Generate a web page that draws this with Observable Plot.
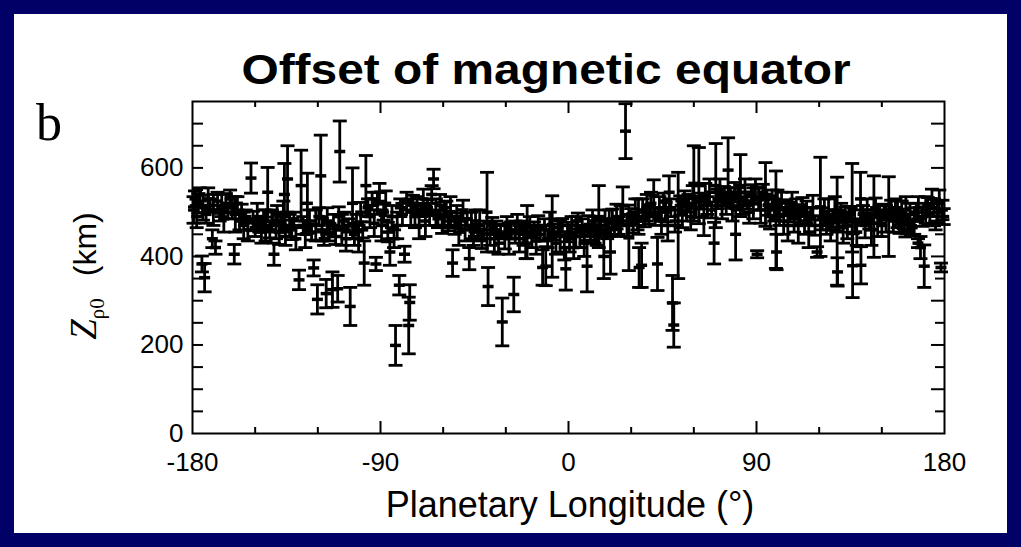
<!DOCTYPE html>
<html>
<head>
<meta charset="utf-8">
<script src="https://cdn.jsdelivr.net/npm/d3@7"></script>
<script src="https://cdn.jsdelivr.net/npm/@observablehq/plot@0.6"></script>
<style>
  html, body { margin: 0; padding: 0; }
  body { width: 1021px; height: 547px; background: #000066; position: relative; overflow: hidden;
         font-family: "Liberation Sans", Arial, sans-serif; }
  #panel { position: absolute; left: 14px; top: 14px; width: 993px; height: 519px; background: #ffffff; }
  #chart { position: absolute; left: 0; top: 66px; }
  #title { position: absolute; left: 531.5px; top: 34.5px; font-size: 42px; line-height: 42px; font-weight: bold;
           white-space: nowrap; transform: translateX(-50%) scaleX(1.14); color: #000; }
  #panelLetter { position: absolute; left: 22px; top: 82.5px; font-family: "Liberation Serif", "Times New Roman", serif;
           font-size: 52px; line-height: 52px; color: #000; }
  #ylabel { position: absolute; left: 73px; top: 262px; white-space: nowrap; color: #000;
            transform: translate(-50%, -50%) rotate(-90deg); line-height: 40px; }
  #ylabel .zi { font-family: "Liberation Serif", "Times New Roman", serif; font-style: italic; font-size: 37px; }
  #ylabel .sub { font-family: "Liberation Serif", "Times New Roman", serif; font-size: 21px; position: relative; top: 8px; }
  #ylabel .km { font-size: 32px; margin-left: 22px; }
  #xlabel { position: absolute; left: 556px; top: 473px; font-size: 36px; line-height: 36px; white-space: nowrap;
            transform: translateX(-50%); color: #000; }
</style>
</head>
<body>
<div id="panel">
  <div id="title">Offset of magnetic equator</div>
  <div id="panelLetter">b</div>
  <div id="ylabel"><span class="zi">Z</span><span class="sub">ρ0</span><span class="km">(km)</span></div>
  <div id="chart"></div>
  <div id="xlabel">Planetary Longitude (°)</div>
</div>
<script>
// ---- data: planetary longitude (deg), equator offset Z (km), error (km)
const longitude = [
  -179.5,-178.8,-178,-177.2,-176.5,-175.5,-175,-174.2,-173.5,-172.5,-171.5,-170.5,-170,-169,-168,-167,-166,-165,-164,-163,-162,-161,-160,-159.5,-158.5,
  -157.5,-156.5,-155.5,-154.5,-153.5,-152,-151,-150,-149,-148,-147,-146,-145,-144,-143,-142,-141,-140,-139.5,
  -138.5,-137.5,-136.5,-136,-135.5,-134.5,-133.5,-132.5,-131.5,-130.5,-129,-128,-127,-126,-125,-124,-123,-122,-121,-120.2,-119.5,
  -118.6,-118,-117,-116,-115.5,-114.5,-113,-112.5,-111.5,-110.5,-110,-109.5,-108.5,-107.5,-106.5,-105.5,-104.5,-103.4,-102.5,-101.5,-100.5,
  -99.5,-98.5,-97.8,-97,-96,-95,-94,-93,-92.2,-91.5,-90.5,-89.5,-88.5,-87.5,-86.5,-85.5,-84.5,-83.5,-82.8,-82,-81,-80.5,-79.5,-78.5,-77.5,-76.5,-76,-75.5,-74.5,
  -73.5,-72.5,-71.5,-70.5,-69.5,-68.5,-67.5,-66.5,-65.5,-64.6,-63.5,-62.5,-61.5,-60.5,
  -59.5,-58.5,-57.5,-56.5,-55.5,-54.5,-53.5,-52.5,-51.5,-50.5,-49.5,-48.5,-47.5,-46.5,-45.5,-44.5,-43.5,-42.5,-41.5,-40.5,
  -39,-38.5,-37.5,-36.5,-35.5,-34.5,-33.5,-32.5,-31.7,-30.5,-29.5,-28.5,-27.5,-26.2,-25.5,-24.5,-23.5,-22.5,-21.5,-20.5,
  -19.8,-18.5,-17.5,-16.5,-15.5,-14.5,-13.5,-12.4,-11.5,-10.9,-10,-9,-7.8,-7,-6,-5,-4,-3,-2,-1.3,-0.5,
  0.5,1.5,2.5,3.5,4.5,5.5,6.5,7.5,8.9,9.5,10.5,11.5,12.5,13.5,14.5,15.5,16.9,17.5,18.5,19.5,
  20.1,21,22,23,24,25,26,27.3,28,28.9,30,31,32,33,33.5,33.8,35,35.5,36.5,37.5,38.5,39.5,
  40.8,41.5,42.6,43.5,44.5,45.5,46.5,47.5,48.2,49,49.8,50.4,51,52.5,53.5,54.5,55.5,56.5,57.5,58.5,59.5,
  60,61,62.4,63.5,64.8,65.5,66.5,67.5,68.5,69.7,70.5,71.5,72.5,73.5,74.5,75.5,76.4,77.5,78.5,79.5,
  80,81,82.3,83.5,84.5,85.5,86.5,87.5,88.5,89.5,90.3,91,92,93,94.3,95.5,96.5,97.5,98.5,99.3,99.6,100,
  101,102,103,104,105,106,107,108,109,110,111,112,113,114,115,116,117,118,119,120.6,121.5,
  122.5,123.5,124.5,125.5,126.5,127.5,128.6,128.8,129.5,130.5,131.5,132.5,133.5,134.5,135.8,136,137,138,139.8,140,
  141,142,143,144,145,146.2,147,148,149,150,151,152,153.3,154.5,155.5,156.5,157.5,158.5,159.5,
  160.5,161.3,161.5,162.5,163.5,164.5,165.5,166.5,167.3,167.5,168.5,169.5,170.3,171,172,173,174,175,175.7,176.5,177.5,178.3,179,179.6
];
const offsetKm = [
  505,530,490,520,540,383,510,352,495,530,515,440,505,420,525,498,515,485,520,500,530,510,405,495,520,
  480,500,470,490,460,577,480,465,490,470,455,485,470,545,460,480,405,470,495,
  455,475,490,540,445,575,470,460,485,440,347,560,470,450,520,480,455,374,470,303,490,
  582,460,440,316,480,455,325,470,445,327,490,637,460,480,440,470,287,520,450,475,440,
  500,460,385,560,510,490,530,475,383,520,545,470,500,520,455,410,490,440,199,470,335,510,495,405,525,244,296,500,520,
  490,515,470,505,530,480,510,495,540,575,500,485,515,470,
  495,510,480,500,385,470,490,455,480,505,460,485,395,470,445,480,455,470,440,460,
  500,332,450,470,440,460,430,455,252,445,470,440,460,314,455,475,440,465,450,430,
  455,470,445,460,435,470,450,375,460,378,440,470,445,455,430,465,445,470,420,372,455,
  440,470,420,455,480,445,465,430,378,470,455,480,460,445,490,470,400,480,460,475,
  410,485,465,490,470,480,515,683,470,442,490,475,500,480,490,375,380,505,485,510,495,520,
  537,490,383,510,480,525,500,470,545,510,295,245,480,470,515,495,530,505,520,490,535,
  565,510,560,525,490,540,515,545,505,430,560,530,550,515,540,520,595,535,510,545,
  450,530,560,515,545,525,500,540,520,555,405,530,505,545,540,515,490,530,505,483,410,520,
  495,525,480,510,470,500,520,485,510,470,495,515,480,500,455,490,510,470,410,512,485,
  500,470,495,460,485,505,457,365,480,500,465,490,470,495,510,379,480,455,530,380,
  495,470,505,480,460,490,510,475,495,470,500,485,490,505,480,510,495,470,500,
  485,452,505,475,495,465,480,500,430,510,420,490,378,505,515,495,530,510,470,500,520,375,505,490
];
const errorKm = [
  30,18,25,22,15,18,28,32,20,25,15,20,35,15,20,18,25,30,22,15,20,25,22,40,15,
  20,18,30,15,25,34,22,20,30,15,25,20,35,56,18,25,25,30,20,
  28,18,35,70,20,75,25,22,15,25,22,80,20,30,68,25,18,18,35,33,20,
  92,25,15,32,30,20,40,25,18,30,22,69,35,20,28,15,43,80,25,20,30,
  22,18,50,68,20,25,15,30,15,25,20,35,18,28,22,30,25,20,45,30,22,20,25,18,20,64,40,30,18,
  25,20,30,15,22,35,18,25,20,22,30,20,25,18,
  28,15,22,35,30,20,25,30,18,22,25,15,25,30,20,25,18,35,22,20,
  90,43,25,18,30,20,25,15,54,28,20,35,18,39,25,20,30,15,25,35,
  60,20,25,18,30,22,15,40,25,44,20,30,92,18,25,20,35,15,28,48,22,
  30,20,25,35,18,25,20,30,58,22,18,25,30,20,70,15,50,25,20,30,
  50,22,18,28,20,35,42,62,25,74,18,22,30,20,40,45,50,25,18,30,22,25,
  36,20,60,25,30,18,22,35,37,20,62,50,25,120,22,30,18,25,20,30,25,
  85,22,86,18,43,25,20,30,18,47,95,22,25,30,18,25,73,20,30,22,
  58,25,70,20,30,18,25,22,35,20,8,25,30,18,72,22,28,20,25,110,40,30,
  25,20,30,18,35,22,25,30,20,40,22,18,30,25,35,20,28,22,12,112,25,
  30,20,35,25,18,30,122,32,25,20,35,22,30,18,100,72,25,30,60,42,
  20,28,25,18,35,92,22,30,20,25,18,30,90,22,25,20,30,18,25,
  22,8,30,20,25,18,30,20,10,25,25,22,48,30,18,25,22,20,10,25,30,10,22,18
];

// ---- axis tick values
const xLabelTicks = [-180, -90, 0, 90, 180];
const xMajorTicks = [-90, 0, 90];
const xMinorTicks = [-150, -120, -60, -30, 30, 60, 120, 150];
const yLabelTicks = [0, 200, 400, 600];
const yMajorTicks = [100, 200, 300, 400, 500, 600, 700];
const yMinorTicks = [50, 150, 250, 350, 450, 550, 650];

if (longitude.length !== offsetKm.length || longitude.length !== errorKm.length) {
  console.error("length mismatch", longitude.length, offsetKm.length, errorKm.length);
}
const points = longitude.map((lon, i) => ({lon, z: offsetKm[i], err: errorKm[i]}));

const capSymbol = {draw(ctx) { ctx.moveTo(-7, 0); ctx.lineTo(7, 0); }};
const centerSymbol = {draw(ctx) { ctx.moveTo(-5.5, 0); ctx.lineTo(5.5, 0); }};

const W = 993, H = 450, mL = 178, mR = 63, mT = 21, mB = 97;
const innerW = W - mL - mR, innerH = H - mT - mB;
const ink = "#000";

const chart = Plot.plot({
  width: W, height: H,
  marginLeft: mL, marginRight: mR, marginTop: mT, marginBottom: mB,
  style: {fontFamily: "'Liberation Sans', Arial, sans-serif", fontSize: "26px", color: "#000", background: "transparent", overflow: "visible"},
  x: {domain: [-180, 180], ticks: xLabelTicks, tickFormat: d => String(d), tickSize: 0, tickPadding: 19, label: null},
  y: {domain: [0, 750], ticks: yLabelTicks, tickFormat: d => String(d), tickSize: 0, tickPadding: 9, label: null},
  marks: [
    // inward ticks, bottom and top
    Plot.tickX(xMajorTicks, {x: d => d, insetTop: innerH - 12, stroke: ink, strokeWidth: 2}),
    Plot.tickX(xMinorTicks, {x: d => d, insetTop: innerH - 6, stroke: ink, strokeWidth: 2}),
    Plot.tickX(xMajorTicks, {x: d => d, insetBottom: innerH - 12, stroke: ink, strokeWidth: 2}),
    Plot.tickX(xMinorTicks, {x: d => d, insetBottom: innerH - 6, stroke: ink, strokeWidth: 2}),
    // inward ticks, left and right
    Plot.tickY(yMajorTicks, {y: d => d, insetRight: innerW - 11, stroke: ink, strokeWidth: 2}),
    Plot.tickY(yMinorTicks, {y: d => d, insetRight: innerW - 11, stroke: ink, strokeWidth: 2}),
    Plot.tickY(yMajorTicks, {y: d => d, insetLeft: innerW - 13, stroke: ink, strokeWidth: 2}),
    Plot.tickY(yMinorTicks, {y: d => d, insetLeft: innerW - 9, stroke: ink, strokeWidth: 2}),
    // error bars
    Plot.ruleX(points, {x: "lon", y1: d => d.z - d.err, y2: d => d.z + d.err, stroke: ink, strokeWidth: 2.8}),
    Plot.dot(points, {x: "lon", y: d => d.z + d.err, symbol: capSymbol, fill: "none", stroke: ink, strokeWidth: 2.8}),
    Plot.dot(points, {x: "lon", y: d => d.z - d.err, symbol: capSymbol, fill: "none", stroke: ink, strokeWidth: 2.8}),
    Plot.dot(points, {x: "lon", y: "z", symbol: centerSymbol, fill: "none", stroke: ink, strokeWidth: 3.5}),
    Plot.frame({stroke: ink, strokeWidth: 2})
  ]
});
document.getElementById("chart").appendChild(chart);
</script>
</body>
</html>
